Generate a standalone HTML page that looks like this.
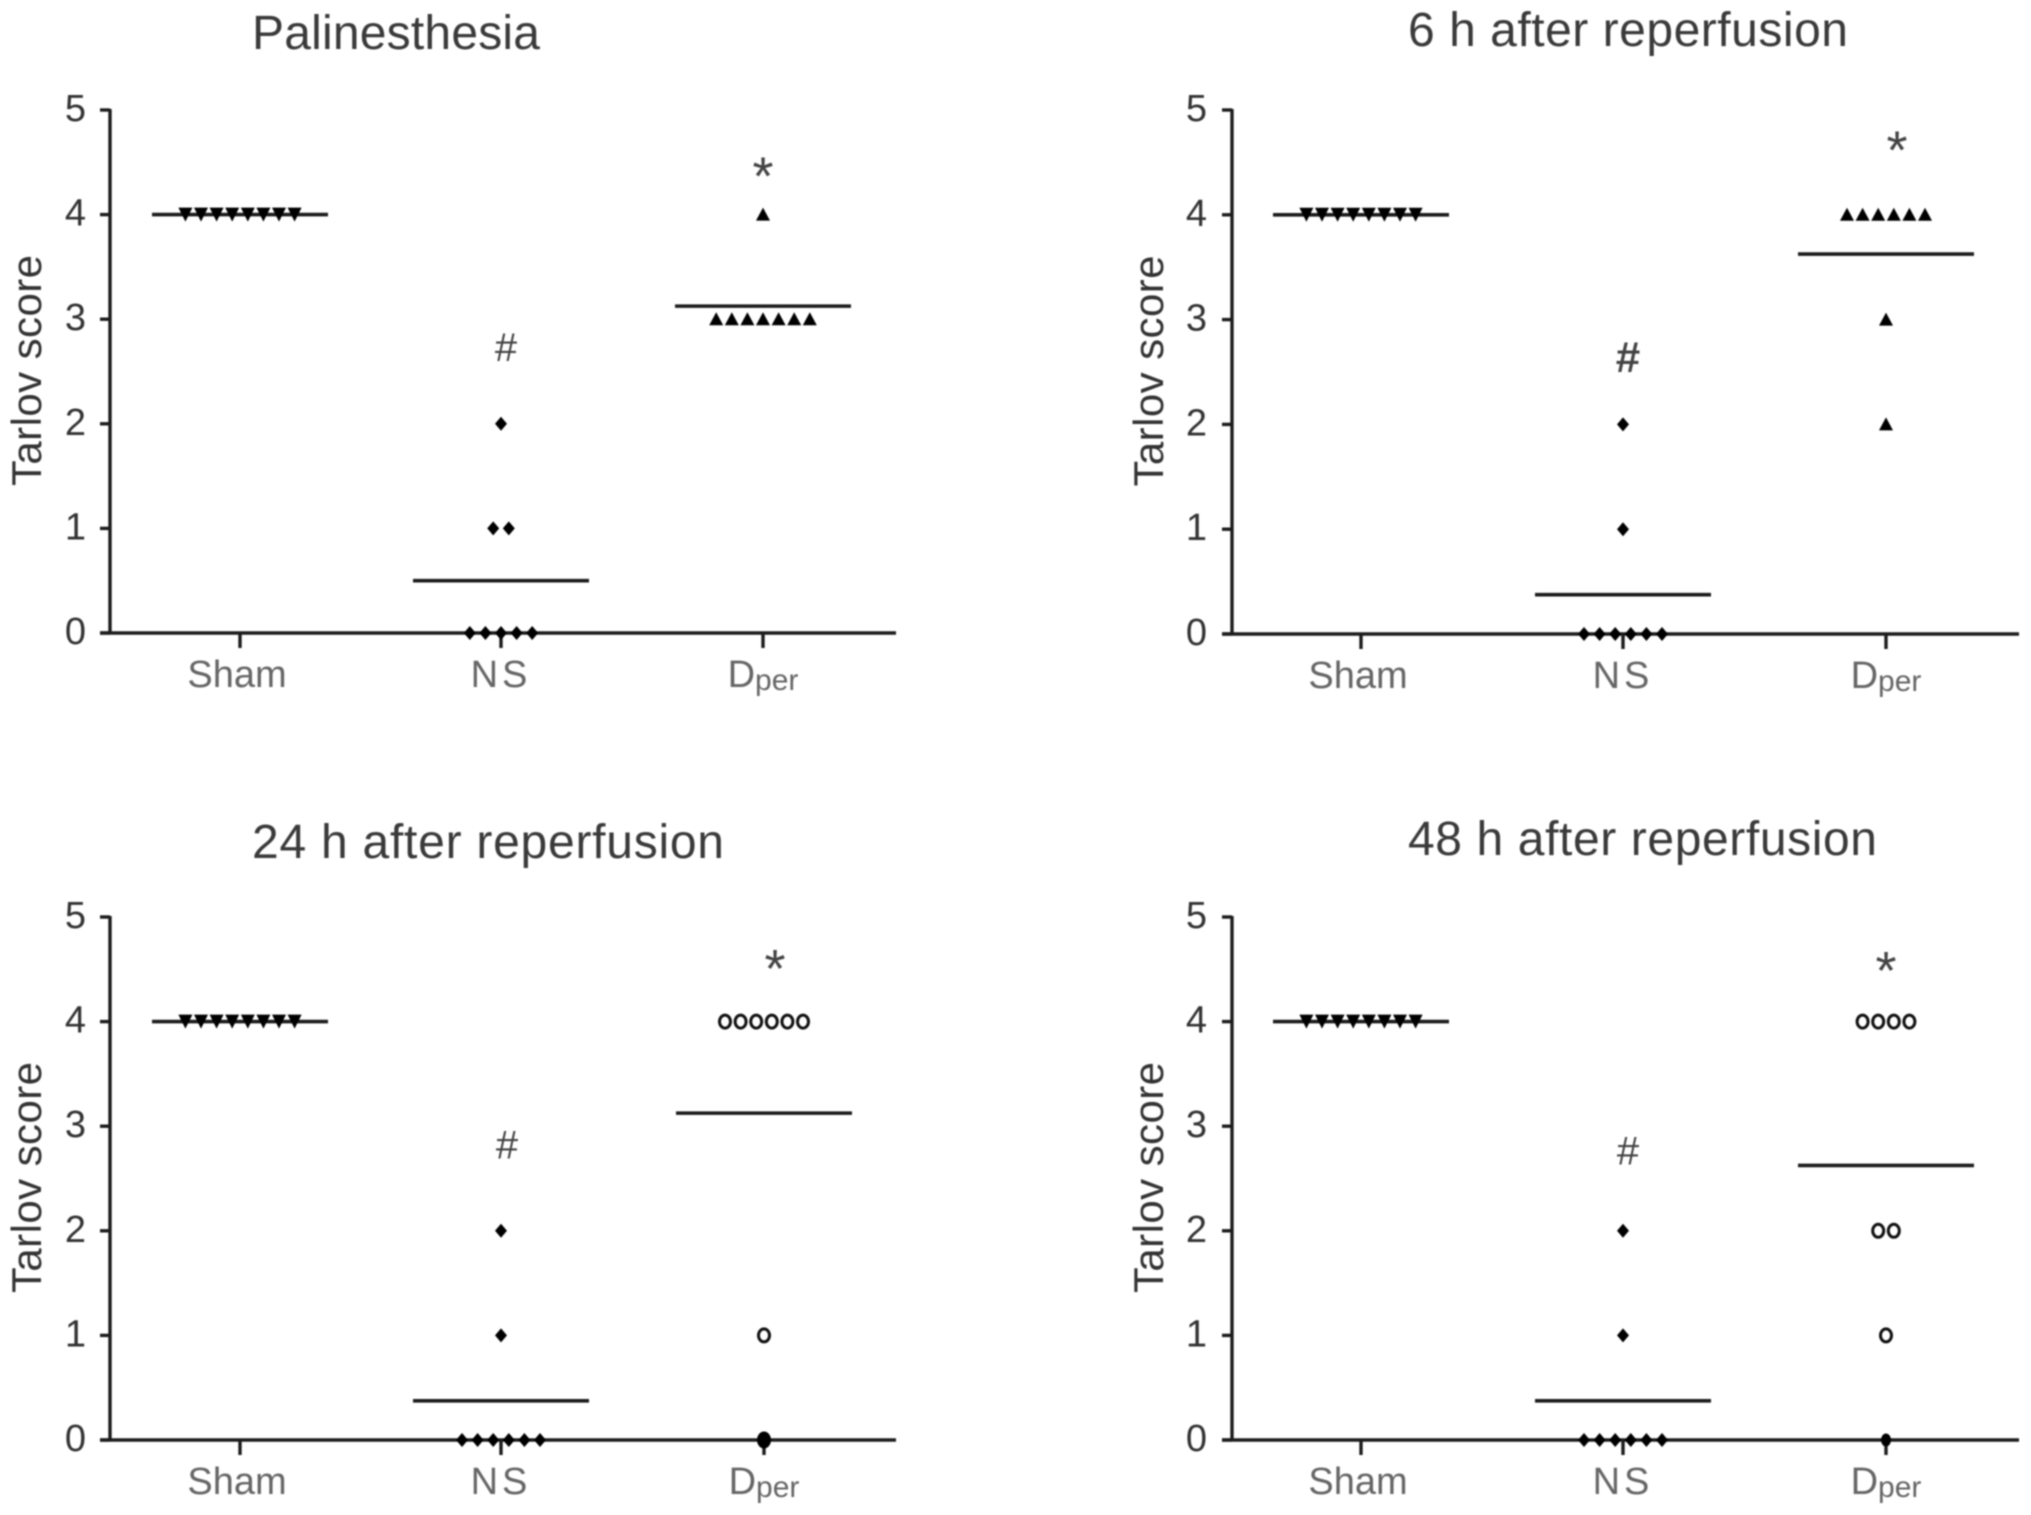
<!DOCTYPE html>
<html lang="en">
<head>
<meta charset="utf-8">
<title>Tarlov score panels</title>
<style>
html,body{margin:0;padding:0;background:#fff;width:2031px;height:1515px;overflow:hidden}
#figure{position:absolute;left:0;top:0;width:2031px;height:1515px;filter:blur(0.8px)}
text{font-family:"Liberation Sans",sans-serif}
</style>
</head>
<body>
<svg id="figure" xmlns="http://www.w3.org/2000/svg" width="2031" height="1515" viewBox="0 0 2031 1515"></svg>
<script>
const panelTitles = ["Palinesthesia", "6 h after reperfusion", "24 h after reperfusion", "48 h after reperfusion"];
const categories = ["Sham", "NS", "Dper"];
const yTicks = [0, 1, 2, 3, 4, 5];
const shamScores = [
  [4, 4, 4, 4, 4, 4, 4, 4],
  [4, 4, 4, 4, 4, 4, 4, 4],
  [4, 4, 4, 4, 4, 4, 4, 4],
  [4, 4, 4, 4, 4, 4, 4, 4]
];
const nsScores = [
  [2, 1, 1, 0, 0, 0, 0, 0],
  [2, 1, 0, 0, 0, 0, 0, 0],
  [2, 1, 0, 0, 0, 0, 0, 0],
  [2, 1, 0, 0, 0, 0, 0, 0]
];
const dperScores = [
  [4, 3, 3, 3, 3, 3, 3, 3],
  [4, 4, 4, 4, 4, 4, 3, 2],
  [4, 4, 4, 4, 4, 4, 1, 0],
  [4, 4, 4, 4, 2, 2, 1, 0]
];
const shamMeans = [4, 4, 4, 4];
const nsMeans = [0.5, 0.375, 0.375, 0.375];
const dperMeans = [3.125, 3.625, 3.125, 2.625];
const hashLevels = [2.74, 2.65, 2.83, 2.77];
const starLevels = [4.45, 4.70, 4.59, 4.57];

const svg = document.getElementById('figure');
const NS = 'http://www.w3.org/2000/svg';
const INK = '#1c1c1c';

function make(parent, tag, attrs, text) {
  const el = document.createElementNS(NS, tag);
  for (const k in attrs) el.setAttribute(k, attrs[k]);
  if (text !== undefined) el.textContent = text;
  parent.appendChild(el);
  return el;
}

function drawMarker(g, kind, cx, cy, zeroRadius) {
  let el;
  if (kind === 'down') {
    el = make(g, 'polygon', {points: (cx-7)+','+(cy-7)+' '+(cx+7)+','+(cy-7)+' '+cx+','+(cy+7), fill: '#000'});
  } else if (kind === 'up') {
    el = make(g, 'polygon', {points: (cx-7)+','+(cy+6)+' '+(cx+7)+','+(cy+6)+' '+cx+','+(cy-7), fill: '#000'});
  } else if (kind === 'diamond') {
    el = make(g, 'polygon', {points: cx+','+(cy-7)+' '+(cx+6)+','+cy+' '+cx+','+(cy+7)+' '+(cx-6)+','+cy, fill: '#000'});
  } else if (kind === 'ring-zero') {
    el = make(g, 'ellipse', {cx: cx, cy: cy, rx: zeroRadius, ry: zeroRadius + 1.5, fill: '#000'});
  } else {
    el = make(g, 'ellipse', {cx: cx, cy: cy, rx: 5.5, ry: 6.5, fill: '#fff', stroke: '#111', 'stroke-width': 3});
  }
  return el;
}

function drawPanel(i, left, right, yTop, yZero, centers, titleBase, titleX, titleLen, yTitleX, tickRight) {
  const yScale = function (v) { return yZero - (v / 5) * (yZero - yTop); };
  const p = make(svg, 'g', {});
  
  

  const title = make(p, 'text', {x: titleX, y: titleBase, 'font-size': 48, fill: '#3a3a3a', textLength: titleLen, lengthAdjust: 'spacing'}, panelTitles[i]);
  
  

  const yAxis = make(p, 'line', {x1: left, x2: left, y1: yTop - 1, y2: yZero + 1, stroke: INK, 'stroke-width': 3.4});
  
  
  const xAxis = make(p, 'line', {x1: left - 10, x2: right, y1: yZero, y2: yZero, stroke: INK, 'stroke-width': 3.4});
  
  

  yTicks.forEach(function (t) {
    const y = yScale(t);
    const tick = make(p, 'line', {x1: left - 10, x2: left, y1: y, y2: y, stroke: INK, 'stroke-width': 3.4});
    
    
    const lab = make(p, 'text', {x: tickRight, y: y + 11, 'font-size': 38, fill: '#333', 'text-anchor': 'end'}, String(t));
    
    
  });

  const yTitleY = (yTop + yZero) / 2 - 1;
  const yTitle = make(p, 'text', {transform: 'translate(' + yTitleX + ',' + yTitleY + ') rotate(-90)', 'font-size': 42, fill: '#333', 'text-anchor': 'middle', textLength: 231, lengthAdjust: 'spacing'}, 'Tarlov score');
  
  

  const scoreSets = [shamScores[i], nsScores[i], dperScores[i]];
  const meanSets = [shamMeans[i], nsMeans[i], dperMeans[i]];
  const kinds = ['down', 'diamond', i < 2 ? 'up' : 'ring'];

  categories.forEach(function (cat, c) {
    const cx = centers[c];
    const tick = make(p, 'line', {x1: cx, x2: cx, y1: yZero, y2: yZero + 15, stroke: INK, 'stroke-width': 3.4});
    
    

    const base = yZero + 54;
    let lab;
    if (cat === 'Dper') {
      lab = make(p, 'text', {x: cx, y: base, 'font-size': 38, fill: '#666', 'text-anchor': 'middle'});
      make(lab, 'tspan', {}, 'D');
      make(lab, 'tspan', {'font-size': 30, dy: 3}, 'per');
    } else {
      lab = make(p, 'text', {x: c === 0 ? cx - 3 : cx, y: base, 'font-size': 38, fill: '#666', 'text-anchor': 'middle', 'letter-spacing': cat === 'NS' ? 4 : 0}, cat);
    }
    
    

    const meanLine = make(p, 'line', {x1: cx - 88, x2: cx + 88, y1: yScale(meanSets[c]), y2: yScale(meanSets[c]), stroke: INK, 'stroke-width': 3.6});
    
    

    const counts = {};
    scoreSets[c].forEach(function (v) { counts[v] = (counts[v] || 0) + 1; });
    const seen = {};
    const spacing = 15.6;
    scoreSets[c].forEach(function (v) {
      const idx = seen[v] || 0;
      seen[v] = idx + 1;
      const px = cx + (idx - (counts[v] - 1) / 2) * spacing;
      const kind = (kinds[c] === 'ring' && v === 0) ? 'ring-zero' : kinds[c];
      const mk = drawMarker(p, kind, px, yScale(v), i === 2 ? 7 : 5);
      
      
    });
  });

  const hashSize = i === 1 ? 44 : 40;
  const hash = make(p, 'text', {x: centers[1] + (i === 2 ? 6 : 5), y: yScale(hashLevels[i]) + hashSize * 0.36, 'font-size': hashSize, 'font-weight': i === 1 ? 'bold' : 'normal', fill: '#444', 'text-anchor': 'middle'}, '#');
  
  
  const starX = centers[2] + (i === 0 || i === 3 ? 0 : 11);
  const star = make(p, 'text', {x: starX, y: yScale(starLevels[i]) + 27, 'font-size': 54, fill: '#444', 'text-anchor': 'middle'}, '*');
  
  
}

drawPanel(0, 110, 896, 110, 633, [240, 501, 763], 49, 252, 288, 41, 86);
drawPanel(1, 1232, 2019, 110, 634, [1361, 1623, 1886], 46, 1408, 440, 1163, 1207);
drawPanel(2, 110, 896, 917, 1440, [240, 501, 764], 858, 252, 472, 41, 86);
drawPanel(3, 1232, 2019, 917, 1440, [1361, 1623, 1886], 855, 1408, 469, 1163, 1207);
</script>
</body>
</html>
